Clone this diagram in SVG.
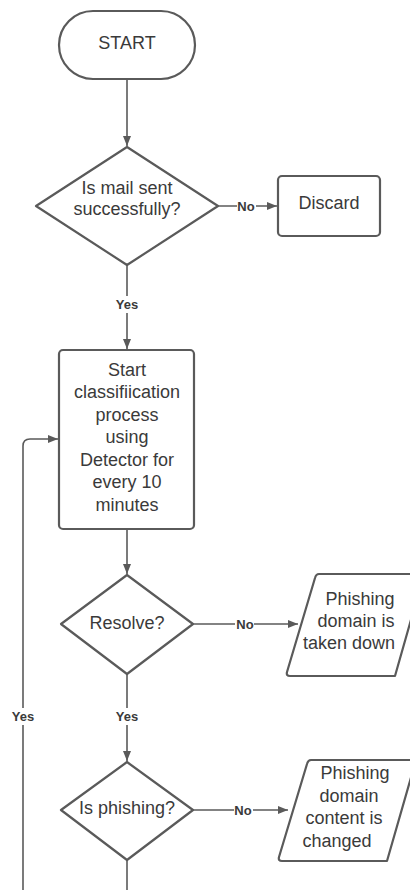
<svg xmlns="http://www.w3.org/2000/svg" width="410" height="890" viewBox="0 0 410 890">
<style>
.shape{fill:#fff;stroke:#5a5a5a;stroke-width:2.2;stroke-linejoin:round}
.t{font-family:"Liberation Sans",Arial,sans-serif;font-size:18px;fill:#3a3a3a;text-anchor:middle;dominant-baseline:central}
.lbl{font-family:"Liberation Sans",Arial,sans-serif;font-size:13px;font-weight:bold;fill:#3a3a3a;text-anchor:middle;dominant-baseline:central}
.ln{fill:none;stroke:#5a5a5a;stroke-width:1.6}
.bg{fill:#fff}
</style>
<defs>
<marker id="ah" viewBox="0 0 10 8" refX="10" refY="4" markerWidth="10" markerHeight="8" markerUnits="userSpaceOnUse" orient="auto">
<path d="M0,0 L10,4 L0,8 Z" fill="#5a5a5a"/>
</marker>
</defs>
<g id="connectors">
<path class="ln" d="M127,79 V146" marker-end="url(#ah)"/>
<path class="ln" d="M218,206 H277" marker-end="url(#ah)"/>
<rect class="bg" x="237" y="198" width="19" height="16"/>
<text class="lbl" x="246" y="206">No</text>
<path class="ln" d="M127,265 V349" marker-end="url(#ah)"/>
<rect class="bg" x="113" y="296" width="28" height="17"/>
<text class="lbl" x="127" y="304">Yes</text>
<path class="ln" d="M127,529 V574" marker-end="url(#ah)"/>
<path class="ln" d="M193,624 H298" marker-end="url(#ah)"/>
<rect class="bg" x="235" y="616" width="19" height="16"/>
<text class="lbl" x="245" y="624">No</text>
<path class="ln" d="M127,674 V761" marker-end="url(#ah)"/>
<rect class="bg" x="113" y="708" width="28" height="17"/>
<text class="lbl" x="127" y="716">Yes</text>
<path class="ln" d="M193,810 H288" marker-end="url(#ah)"/>
<rect class="bg" x="234" y="802" width="19" height="16"/>
<text class="lbl" x="243" y="810">No</text>
<path class="ln" d="M127,860 V892"/>
<path class="ln" d="M23,892 V446 Q23,439 30,439 H58" marker-end="url(#ah)"/>
<rect class="bg" x="9" y="708" width="28" height="17"/>
<text class="lbl" x="23" y="716">Yes</text>
</g>
<g id="start">
<rect class="shape" x="59" y="11" width="136" height="68" rx="34" ry="34"/>
<text class="t" x="127" y="43">START</text>
</g>
<g id="mail-sent">
<path class="shape" d="M127,147 L218,206 L127,265 L36,206 Z"/>
<text class="t" x="127" y="188">Is mail sent</text>
<text class="t" x="127" y="209">successfully?</text>
</g>
<g id="discard">
<rect class="shape" x="278" y="176" width="102" height="60" rx="4"/>
<text class="t" x="329" y="203">Discard</text>
</g>
<g id="classification">
<rect class="shape" x="59" y="350" width="135" height="179" rx="4"/>
<text class="t" x="127" y="370">Start</text>
<text class="t" x="127" y="392">classifiication</text>
<text class="t" x="127" y="415">process</text>
<text class="t" x="127" y="437">using</text>
<text class="t" x="127" y="460">Detector for</text>
<text class="t" x="127" y="482">every 10</text>
<text class="t" x="127" y="505">minutes</text>
</g>
<g id="resolve">
<path class="shape" d="M127,575 L193,624 L127,674 L61,624 Z"/>
<text class="t" x="127" y="623">Resolve?</text>
</g>
<g id="taken-down">
<path class="shape" d="M319,574 L424,574 L395,676 L290,676 Q286,676 287,672 L315,578 Q316,574 319,574 Z"/>
<text class="t" x="360" y="599">Phishing</text>
<text class="t" x="356" y="621">domain is</text>
<text class="t" x="349" y="643">taken down</text>
</g>
<g id="is-phishing">
<path class="shape" d="M127,762 L193,810 L127,860 L61,810 Z"/>
<text class="t" x="127" y="808">Is phishing?</text>
</g>
<g id="content-changed">
<path class="shape" d="M311,760 L416,760 L387,861 L282,861 Q278,861 279,857 L307,764 Q308,760 311,760 Z"/>
<text class="t" x="355" y="773">Phishing</text>
<text class="t" x="349" y="796">domain</text>
<text class="t" x="344" y="818">content is</text>
<text class="t" x="337" y="841">changed</text>
</g>
</svg>
